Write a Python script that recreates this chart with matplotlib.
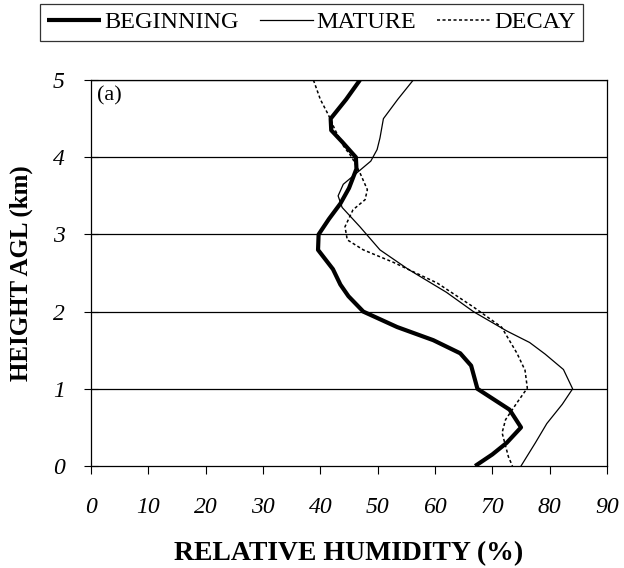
import numpy as np
import matplotlib.pyplot as plt

# relative humidity (%) vs height (km)
h_beg = [5.0, 4.75, 4.5, 4.35, 4.2, 4.0, 3.85, 3.6, 3.4, 3.2, 3.0, 2.8, 2.55, 2.35, 2.2, 2.0, 1.8, 1.63, 1.46, 1.3, 1.0, 0.73, 0.5, 0.3, 0.15, 0.0]
rh_beg = [46.9, 44.5, 41.8, 41.9, 43.8, 46.2, 46.3, 45.0, 43.5, 41.5, 39.7, 39.6, 42.2, 43.5, 44.9, 47.5, 53.4, 59.7, 64.4, 66.3, 67.4, 73.0, 75.0, 72.5, 70.0, 67.0]

h_mat = [5.0, 4.75, 4.5, 4.25, 4.1, 3.95, 3.8, 3.65, 3.5, 3.35, 3.1, 2.8, 2.55, 2.25, 2.0, 1.75, 1.6, 1.45, 1.25, 1.0, 0.8, 0.55, 0.3, 0.0]
rh_mat = [56.2, 53.5, 51.0, 50.4, 49.9, 48.8, 46.4, 44.0, 43.1, 43.8, 46.9, 50.4, 55.3, 62.0, 66.7, 72.5, 76.5, 79.2, 82.4, 84.0, 82.2, 79.5, 77.5, 75.0]

h_dec = [5.0, 4.75, 4.55, 4.35, 4.15, 4.0, 3.8, 3.58, 3.45, 3.32, 3.1, 2.93, 2.8, 2.64, 2.37, 2.06, 1.8, 1.46, 1.24, 1.01, 0.82, 0.6, 0.43, 0.12, 0.0]
rh_dec = [38.8, 40.0, 41.4, 42.6, 44.0, 45.5, 46.9, 48.2, 47.8, 45.7, 44.3, 44.7, 47.5, 52.7, 60.4, 66.7, 71.6, 74.3, 75.7, 76.1, 74.3, 72.3, 71.7, 72.8, 73.5]

xticks = np.arange(0, 91, 10)
yticks = np.arange(0, 6, 1)

plt.rcParams['font.family'] = ['Liberation Serif', 'DejaVu Serif']

fig = plt.figure(figsize=(6.24, 5.68), dpi=100)
ax = fig.add_axes([0.1458, 0.1796, 0.9728 - 0.1458, 0.859 - 0.1796])

ax.plot(rh_beg, h_beg, color='black', lw=3.0, label='BEGINNING', solid_capstyle='butt')
ax.plot(rh_mat, h_mat, color='black', lw=0.9, label='MATURE')
ax.plot(rh_dec, h_dec, color='black', lw=1.1, ls=(0, (2, 1.6)), label='DECAY')

ax.set_xlim(0, 90)
ax.set_ylim(0, 5)
ax.set_xticks(xticks)
ax.set_yticks(yticks)
for y in yticks[1:]:
    ax.axhline(y, color='black', lw=0.9, zorder=0)

ax.tick_params(axis='x', direction='out', length=6, width=0.8, pad=16, labelsize=17)
ax.tick_params(axis='y', direction='inout', length=10, width=0.8, pad=14, labelsize=17)
for lab in ax.get_xticklabels() + ax.get_yticklabels():
    lab.set_fontstyle('italic')

for s in ax.spines.values():
    s.set_linewidth(0.9)

ax.set_xlabel('RELATIVE HUMIDITY (%)', fontsize=20, fontweight='bold', labelpad=17)
ax.set_ylabel('HEIGHT AGL (km)', fontsize=18, fontweight='bold', labelpad=14)

ax.text(0.012, 0.985, '(a)', transform=ax.transAxes, fontsize=16, va='top', ha='left')

leg = fig.legend(loc='upper center', bbox_to_anchor=(0.499, 1 - 4 / 568), ncol=3, fontsize=17.5,
                 frameon=True, fancybox=False, edgecolor='black', handlelength=2.2,
                 handletextpad=0.15, columnspacing=0.85, borderpad=0.3, borderaxespad=0)
leg.get_frame().set_linewidth(0.9)

fig.savefig('out.png', dpi=100)
